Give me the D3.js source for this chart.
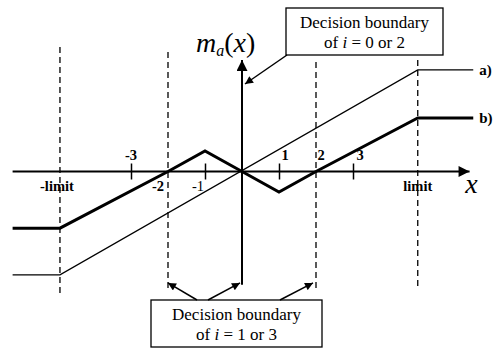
<!DOCTYPE html>
<html><head><meta charset="utf-8">
<script src="https://cdn.jsdelivr.net/npm/d3@7"></script>
<style>
html,body{margin:0;padding:0;background:#fff;}
svg{display:block;}
</style></head>
<body>
<svg id="chart" width="497" height="349"></svg>
<script>
// ---- data ----
const limitLeft = -4.92, limitRight = 4.75;
const seriesAx = [-6.2, limitLeft, limitRight, 6.25];
const seriesAy = [-5.02, -5.02, 4.93, 4.93];
const seriesBx = [-6.2, limitLeft, -2, -1, 0, 1, 2, limitRight, 6.25];
const seriesBy = [-2.75, -2.75, 0, 1, 0, -1, 0, 2.6, 2.6];
const tickValues = [-3, -1, 1, 3];
const tickLabels = [
  {v:-3, t:"-3", pos:"above", dx:0, bold:true},
  {v:-2, t:"-2", pos:"below", dx:-10, bold:true},
  {v:-1, t:"-1", pos:"below", dx:-7, bold:false},
  {v:1, t:"1", pos:"above", dx:6, bold:true},
  {v:2, t:"2", pos:"above", dx:5, bold:true},
  {v:3, t:"3", pos:"above", dx:7, bold:true},
  {v:limitLeft, t:"-limit", pos:"below", dx:-3, bold:true},
  {v:limitRight, t:"limit", pos:"below", dx:0, bold:true}
];
const dashX = [limitLeft, -2, 2, limitRight];
const dashTop = [6.04, 5.8, 5.32, 5.41];
const dashBottom = [-6.09, -5.66, -5.75, -5.75];
const seriesLabels = ["a)", "b)"];

const FONT = "'Liberation Serif', 'Times New Roman', serif";

// ---- scales ----
const x = d3.scaleLinear().domain([-6.2, 6.2]).range([12.6, 471.4]);
const y = d3.scaleLinear().domain([-5, 5]).range([274.5, 68.5]);

const svg = d3.select("#chart").attr("font-family", FONT);
const defs = svg.append("defs");
defs.append("marker").attr("id","ah").attr("viewBox","0 0 10 10")
  .attr("refX",10).attr("refY",5).attr("markerWidth",10).attr("markerHeight",8)
  .attr("markerUnits","userSpaceOnUse").attr("orient","auto")
  .append("path").attr("d","M0,0L10,5L0,10z").attr("fill","#000");
defs.append("marker").attr("id","ahBig").attr("viewBox","0 0 10 10")
  .attr("refX",10).attr("refY",5).attr("markerWidth",16).attr("markerHeight",11)
  .attr("markerUnits","userSpaceOnUse").attr("orient","auto")
  .append("path").attr("d","M0,0L10,5L0,10z").attr("fill","#000");

// dashed verticals
dashX.forEach((v,i)=>{
  svg.append("line").attr("x1",x(v)).attr("x2",x(v))
    .attr("y1",y(dashTop[i])).attr("y2",y(dashBottom[i]))
    .attr("stroke","#000").attr("stroke-width",1.3).attr("stroke-dasharray","6,4");
});

// x axis
svg.append("line").attr("x1",x(-6.2)).attr("x2",x(6.15)).attr("y1",y(0)).attr("y2",y(0))
  .attr("stroke","#000").attr("stroke-width",2).attr("marker-end","url(#ahBig)");
const xAxis = d3.axisBottom(x).tickValues(tickValues).tickSize(16).tickFormat("");
const gx = svg.append("g").attr("transform",`translate(0,${y(0)-8})`).call(xAxis);
gx.select(".domain").remove();
gx.selectAll(".tick line").attr("stroke","#000").attr("stroke-width",1.5);

// y axis
svg.append("line").attr("x1",x(0)).attr("x2",x(0)).attr("y1",y(-5.5)).attr("y2",y(5.41))
  .attr("stroke","#000").attr("stroke-width",2).attr("marker-end","url(#ahBig)");

// series
const line = d3.line().x(d=>x(d[0])).y(d=>y(d[1]));
svg.append("path").datum(d3.zip(seriesAx, seriesAy)).attr("d",line)
  .attr("fill","none").attr("stroke","#000").attr("stroke-width",1.3);
svg.append("path").datum(d3.zip(seriesBx, seriesBy)).attr("d",line)
  .attr("fill","none").attr("stroke","#000").attr("stroke-width",3);

function txt(){ return svg.append("text").attr("font-family", FONT).attr("fill","#000"); }

// series labels
txt().attr("x",x(6.25)+6).attr("y",y(seriesAy[3])+5)
  .attr("font-size",15).attr("font-weight","bold").text(seriesLabels[0]);
txt().attr("x",x(6.25)+6).attr("y",y(seriesBy[8])+5)
  .attr("font-size",15).attr("font-weight","bold").text(seriesLabels[1]);

// tick labels
tickLabels.forEach(d=>{
  txt().attr("x",x(d.v)+d.dx)
    .attr("y", d.pos==="above" ? y(0)-12 : y(0)+19)
    .attr("text-anchor","middle").attr("font-size",14.5)
    .attr("font-weight", d.bold ? "bold" : "normal").text(d.t);
});

// axis titles
txt().attr("x",x(6.2)).attr("y",y(0)+21).attr("text-anchor","middle")
  .attr("font-size",28).attr("font-style","italic").text("x");
const yl = txt().attr("x",x(0)-46).attr("y",52).attr("font-size",28);
yl.append("tspan").attr("font-style","italic").text("m");
yl.append("tspan").attr("font-style","italic").attr("font-size",16).attr("dy",4).text("a");
yl.append("tspan").attr("dy",-4).text("(");
yl.append("tspan").attr("font-style","italic").text("x");
yl.append("tspan").text(")");

// annotation boxes
function box(x0,y0,w,h,line1,iVal){
  svg.append("rect").attr("x",x0).attr("y",y0).attr("width",w).attr("height",h)
    .attr("fill","#fff").attr("stroke","#000").attr("stroke-width",1.3);
  txt().attr("x",x0+w/2).attr("y",y0+20).attr("text-anchor","middle")
    .attr("font-size",17).text(line1);
  const t = txt().attr("x",x0+w/2).attr("y",y0+40).attr("text-anchor","middle")
    .attr("font-size",17);
  t.append("tspan").text("of  ");
  t.append("tspan").attr("font-style","italic").text("i");
  t.append("tspan").text(" = " + iVal);
}
box(286, 8, 157, 47, "Decision boundary", "0 or 2");
box(151, 300, 171, 47, "Decision boundary", "1 or 3");

// annotation arrows
function arrow(x1,y1,x2,y2){
  svg.append("line").attr("x1",x1).attr("y1",y1).attr("x2",x2).attr("y2",y2)
    .attr("stroke","#000").attr("stroke-width",1.5).attr("marker-end","url(#ah)");
}
arrow(287, 55, x(0)+3, 84);
arrow(197, 300, x(-2), y(-5.41));
arrow(208, 300, x(0)-2, y(-5.41));
arrow(280, 300, x(2)-3, y(-5.41));
</script>
</body></html>
